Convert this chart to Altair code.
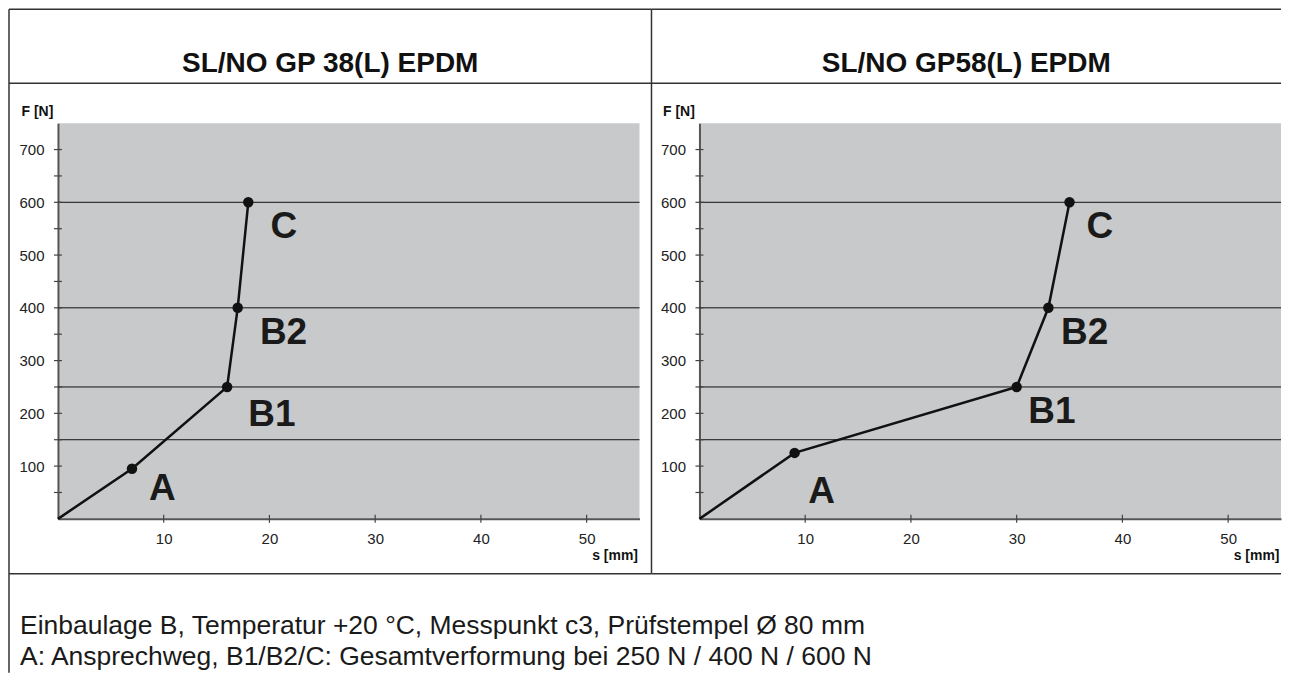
import altair as alt
import pandas as pd

FONT = "Liberation Sans"

# ---- data ----
panel_titles = ["SL/NO GP 38(L) EPDM", "SL/NO GP58(L) EPDM"]
left_s = [0, 7, 16, 17, 18]
left_f = [0, 95, 250, 400, 600]
right_s = [0, 9, 30, 33, 35]
right_f = [0, 125, 250, 400, 600]
point_names = ["", "A", "B1", "B2", "C"]
left_lab_s = [8.6, 18.0, 19.1, 20.1]
left_lab_f = [36, 176, 331, 532]
right_lab_s = [10.3, 31.1, 34.2, 36.6]
right_lab_f = [30, 182, 331, 532]
label_names = ["A", "B1", "B2", "C"]
grid_f = [150, 250, 400, 600]
y_labels = [100, 200, 300, 400, 500, 600, 700]
y_ticks = [50, 100, 150, 200, 250, 300, 350, 400, 450, 500, 550, 600, 650, 700]
x_ticks = [10, 20, 30, 40, 50]
footer = [
    "Einbaulage B, Temperatur +20 °C, Messpunkt c3, Prüfstempel Ø 80 mm",
    "A: Ansprechweg, B1/B2/C: Gesamtverformung bei 250 N / 400 N / 600 N",
]

W, H = 582, 396
FRAME = "#333333"
TICK = "#444444"


def frame_h(y, x1, x2):
    return alt.Chart(pd.DataFrame({"k": [0]})).mark_rule(
        color=FRAME, strokeWidth=1.5
    ).encode(x=alt.value(x1), x2=alt.value(x2), y=alt.value(y))


def frame_v(x, y1, y2):
    return alt.Chart(pd.DataFrame({"k": [0]})).mark_rule(
        color=FRAME, strokeWidth=1.5
    ).encode(x=alt.value(x), y=alt.value(y1), y2=alt.value(y2))


def panel(title, s, f, ls, lf, left):
    df = pd.DataFrame({"s": s, "f": f, "name": point_names})
    lab = pd.DataFrame({"s": ls, "f": lf, "name": label_names})
    grid = pd.DataFrame({"f": grid_f})
    yt = pd.DataFrame({"f": y_ticks})
    xt = pd.DataFrame({"s": x_ticks})

    xs = alt.Scale(domain=[0, 55], nice=False, zero=False)
    ys = alt.Scale(domain=[0, 750], nice=False, zero=False)

    xaxis = alt.Axis(
        values=x_ticks, title="s [mm]", labelPadding=13,
        titleAlign="right", titleAnchor="end", titleX=W - 2, titleY=41,
        titleBaseline="alphabetic",
    )
    yaxis = alt.Axis(
        values=y_labels, title="F [N]", labelPadding=14,
        titleAngle=0, titleAlign="left", titleX=-37, titleY=-8, titleBaseline="alphabetic",
    )

    base = alt.Chart(df)
    line = base.mark_line(color="#111111", strokeWidth=2.5).encode(
        x=alt.X("s:Q", scale=xs, axis=xaxis),
        y=alt.Y("f:Q", scale=ys, axis=yaxis),
        order="s:Q",
    )
    gridl = alt.Chart(grid).mark_rule(color="#111111", strokeWidth=1).encode(
        y=alt.Y("f:Q", scale=ys)
    )
    yticks = alt.Chart(yt).mark_tick(
        orient="horizontal", size=8, thickness=1.2, color=TICK, opacity=1
    ).encode(y=alt.Y("f:Q", scale=ys), x=alt.value(0))
    xticks = alt.Chart(xt).mark_tick(
        orient="vertical", size=8, thickness=1.2, color=TICK, opacity=1
    ).encode(x=alt.X("s:Q", scale=xs), y=alt.value(H))
    pts = base.transform_filter("datum.name != ''").mark_circle(
        color="#111111", size=110, opacity=1
    ).encode(x=alt.X("s:Q", scale=xs), y=alt.Y("f:Q", scale=ys))
    labels = alt.Chart(lab).mark_text(
        font=FONT, fontSize=37, fontWeight="bold", color="#1a1a1a",
        align="left", baseline="alphabetic",
    ).encode(x=alt.X("s:Q", scale=xs), y=alt.Y("f:Q", scale=ys), text="name:N")

    if left:
        xl, xr = -49, 594
    else:
        xl, xr = -48, W
    ttl = alt.Chart(pd.DataFrame({"t": [title]})).mark_text(
        font=FONT, fontSize=28, fontWeight="bold", color="#111111",
        align="center", baseline="middle",
    ).encode(x=alt.value((xl + xr) / 2), y=alt.value(-59), text="t:N")

    layers = [line, gridl, yticks, xticks, pts, labels, ttl,
              frame_h(-114, xl, xr), frame_h(-40, xl, xr), frame_h(451, xl, xr)]
    if left:
        layers += [frame_v(-49, -114, 550), frame_v(594, -114, 451)]
        for i, txt in enumerate(footer):
            layers.append(
                alt.Chart(pd.DataFrame({"t": [txt]})).mark_text(
                    font=FONT, fontSize=26.5, color="#1a1a1a",
                    align="left", baseline="alphabetic",
                ).encode(x=alt.value(-38), y=alt.value(511 + 31 * i), text="t:N")
            )
    return alt.layer(*layers).properties(width=W, height=H)


chart = (
    alt.hconcat(
        panel(panel_titles[0], left_s, left_f, left_lab_s, left_lab_f, True),
        panel(panel_titles[1], right_s, right_f, right_lab_s, right_lab_f, False),
        spacing=60,
        bounds="flush",
    )
    .properties(padding=0, background="white")
    .configure_view(fill="#c8c9cb", stroke=None)
    .configure_axis(
        grid=False, ticks=False, labelOverlap=False,
        domainColor="#555555", domainWidth=2,
        labelFont=FONT, labelFontSize=15, labelColor="#222222",
        titleFont=FONT, titleFontSize=14, titleFontWeight="bold", titleColor="#111111",
    )
)

chart.save("out.html", embed_options={"renderer": "svg", "actions": False})
